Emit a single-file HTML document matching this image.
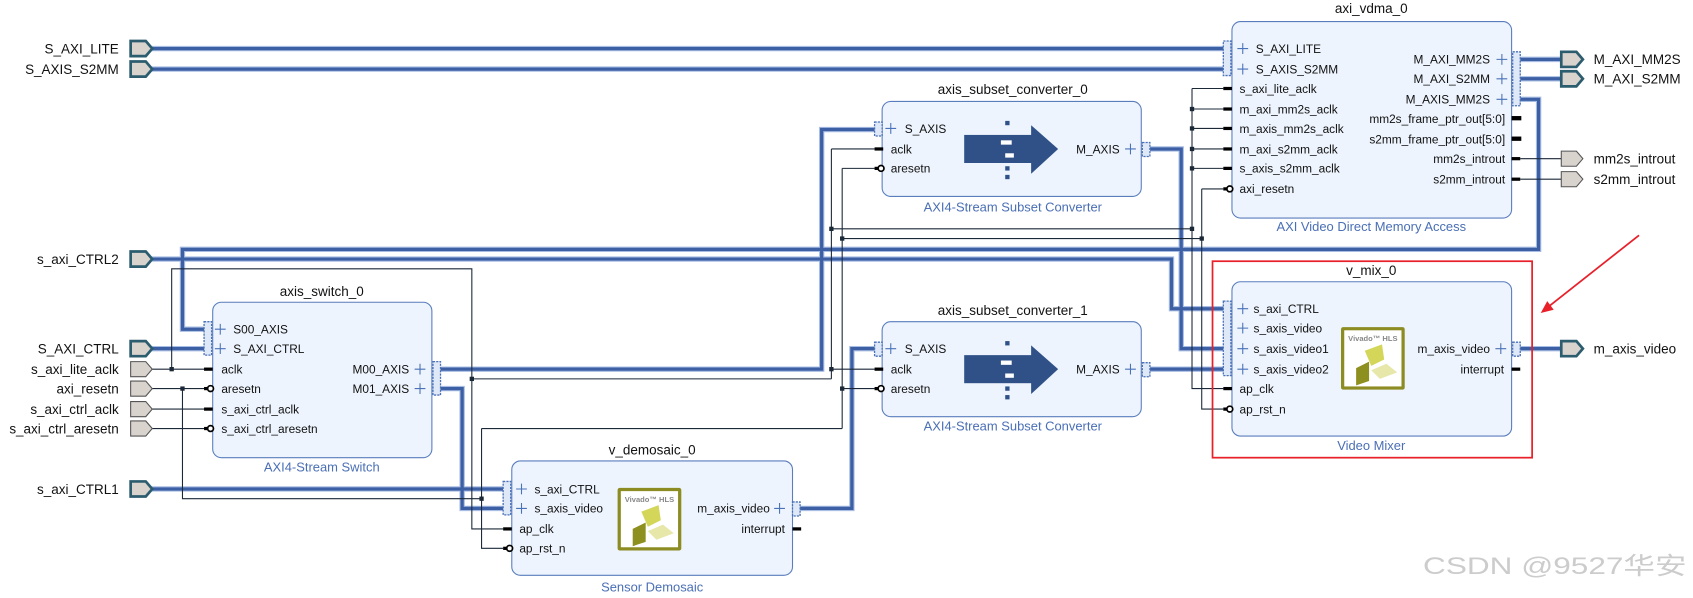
<!DOCTYPE html>
<html><head><meta charset="utf-8"><style>
html,body{margin:0;padding:0;background:#fff;}
svg{display:block;}
text{font-family:"Liberation Sans",Arial,sans-serif;}
.pl{font-size:11px;fill:#111;}
.t{font-size:12.5px;fill:#111;text-anchor:middle;}
.st{font-size:12px;fill:#4a6fb5;text-anchor:middle;}
.ep{font-size:12.5px;fill:#111;}
.box{fill:#edf4fd;stroke:#5a7dbd;stroke-width:1;}
.bo{fill:none;stroke:#a8bde3;stroke-width:5;}
.bi{fill:none;stroke:#3d60a5;stroke-width:3;}
.w{fill:none;stroke:#1b2838;stroke-width:1;}
.pb{fill:#d9d3ce;stroke:#2c5d6e;stroke-width:2.5;}
.pw{fill:#d9d3ce;stroke:#555;stroke-width:1;}
.ic{fill:#dfe8f6;stroke:#4a72b8;stroke-width:1.2;stroke-dasharray:2 1;}
.pls{stroke:#4a72b8;stroke-width:1;fill:none;}
</style></head><body>
<svg width="1693" height="598" viewBox="0 0 1568 554" preserveAspectRatio="none" xmlns="http://www.w3.org/2000/svg">
<defs>
<g id="logo">
<rect x="0" y="0" width="59" height="58" rx="2" fill="#8c8c22"/>
<rect x="3" y="3" width="53" height="52" fill="#fff"/>
<text x="29.5" y="13" font-size="7" font-weight="bold" fill="#888" text-anchor="middle">Vivado™ HLS</text>
<polygon points="22,22 38,16 40,30 28,36" fill="#d4d65a"/>
<polygon points="14,38 26,32 26,50 14,54" fill="#8d8f1e"/>
<polygon points="28,40 42,34 52,42 36,48" fill="#e6e7a8"/>
</g>
<g id="conv">
<rect x="0" y="9" width="63" height="26" fill="#2f5188"/>
<polygon points="62,0 87,22 62,45" fill="#2f5188"/>
<rect x="38" y="-4" width="4" height="4" fill="#2f5188"/>
<rect x="34" y="14" width="10" height="4" fill="#fff"/>
<rect x="38" y="26" width="8" height="4" fill="#fff"/>
<rect x="38" y="38" width="4" height="4" fill="#2f5188"/>
<rect x="38" y="46" width="4" height="4" fill="#2f5188"/>
</g>
</defs>

<g>
<path class="bo" d="M140 45H1133M140 64H1133M140 240H1085V286H1133M1408 92H1425V231H169V305H190M140 323H190M408 342H761V120H810M408 360H428V471H466M140 453H466M741 471H789V323H810M1065 138H1094V323H1133M1065 342H1133M1408 323H1446M1408 55H1446M1408 73H1446"/>
<path class="bi" d="M140 45H1133M140 64H1133M140 240H1085V286H1133M1408 92H1425V231H169V305H190M140 323H190M408 342H761V120H810M408 360H428V471H466M140 453H466M741 471H789V323H810M1065 138H1094V323H1133M1065 342H1133M1408 323H1446M1408 55H1446M1408 73H1446"/>
</g>

<path class="w" d="M140 342H190M159 342V249H437V490H466M437 351H770M770 138H810M770 138V351M770 342H810M770 212H1104M1104 82V360H1133M1104 82H1133M1104 101H1133M1104 119H1133M1104 138H1133M1104 156H1133M140 360H190M169 360V462H446M446 397V508H466M446 397H780M780 156V397M780 156H810M780 360H810M780 221H1113M1113 175V379H1133M1113 175H1133M140 379H190M140 397H190M1408 147H1446M1408 166H1446"/>
<g fill="#1b2838">
<rect x="157" y="340" width="4" height="4"/><rect x="167" y="358" width="4" height="4"/>
<rect x="435" y="349" width="4" height="4"/><rect x="444" y="460" width="4" height="4"/>
<rect x="768" y="210" width="4" height="4"/><rect x="768" y="340" width="4" height="4"/>
<rect x="778" y="219" width="4" height="4"/><rect x="778" y="358" width="4" height="4"/>
<rect x="1102" y="99" width="4" height="4"/><rect x="1102" y="117" width="4" height="4"/>
<rect x="1102" y="136" width="4" height="4"/><rect x="1102" y="154" width="4" height="4"/>
<rect x="1102" y="210" width="4" height="4"/><rect x="1111" y="219" width="4" height="4"/>
</g>

<g>
<path class="pb" d="M121 38h14l6 7l-6 7h-14z"/><text class="ep" x="110" y="49.5" text-anchor="end">S_AXI_LITE</text>
<path class="pb" d="M121 57h14l6 7l-6 7h-14z"/><text class="ep" x="110" y="68.5" text-anchor="end">S_AXIS_S2MM</text>
<path class="pb" d="M121 233h14l6 7l-6 7h-14z"/><text class="ep" x="110" y="244.5" text-anchor="end">s_axi_CTRL2</text>
<path class="pb" d="M121 316h14l6 7l-6 7h-14z"/><text class="ep" x="110" y="327.5" text-anchor="end">S_AXI_CTRL</text>
<path class="pw" d="M121 335h14l6 7l-6 7h-14z"/><text class="ep" x="110" y="346.5" text-anchor="end">s_axi_lite_aclk</text>
<path class="pw" d="M121 353h14l6 7l-6 7h-14z"/><text class="ep" x="110" y="364.5" text-anchor="end">axi_resetn</text>
<path class="pw" d="M121 372h14l6 7l-6 7h-14z"/><text class="ep" x="110" y="383.5" text-anchor="end">s_axi_ctrl_aclk</text>
<path class="pw" d="M121 390h14l6 7l-6 7h-14z"/><text class="ep" x="110" y="401.5" text-anchor="end">s_axi_ctrl_aresetn</text>
<path class="pb" d="M121 446h14l6 7l-6 7h-14z"/><text class="ep" x="110" y="457.5" text-anchor="end">s_axi_CTRL1</text>
</g>
<g>
<path class="pb" d="M1446 48h14l6 7l-6 7h-14z"/><text class="ep" x="1476" y="59.5">M_AXI_MM2S</text>
<path class="pb" d="M1446 66h14l6 7l-6 7h-14z"/><text class="ep" x="1476" y="77.5">M_AXI_S2MM</text>
<path class="pw" d="M1446 140h14l6 7l-6 7h-14z"/><text class="ep" x="1476" y="151.5">mm2s_introut</text>
<path class="pw" d="M1446 159h14l6 7l-6 7h-14z"/><text class="ep" x="1476" y="170.5">s2mm_introut</text>
<path class="pb" d="M1446 316h14l6 7l-6 7h-14z"/><text class="ep" x="1476" y="327.5">m_axis_video</text>
</g>

<text class="t" x="298" y="274">axis_switch_0</text>
<rect class="box" x="197" y="280" width="203" height="144" rx="8"/>
<text class="st" x="298" y="437">AXI4-Stream Switch</text>
<rect class="ic" x="189" y="298" width="7" height="31"/>
<path class="pls" d="M199 305h10M204 300v10M199 323h10M204 318v10"/>
<text class="pl" x="216" y="309">S00_AXIS</text><text class="pl" x="216" y="327">S_AXI_CTRL</text>
<rect x="189" y="340.5" width="8" height="3" fill="#000"/><text class="pl" x="205" y="346">aclk</text>
<rect x="189" y="358.5" width="5" height="3" fill="#000"/><circle cx="195" cy="360" r="2.7" fill="#fff" stroke="#000" stroke-width="1.6"/><text class="pl" x="205" y="364">aresetn</text>
<rect x="189" y="377.5" width="8" height="3" fill="#000"/><text class="pl" x="205" y="383">s_axi_ctrl_aclk</text>
<rect x="189" y="395.5" width="5" height="3" fill="#000"/><circle cx="195" cy="397" r="2.7" fill="#fff" stroke="#000" stroke-width="1.6"/><text class="pl" x="205" y="401">s_axi_ctrl_aresetn</text>
<rect class="ic" x="401" y="335" width="7" height="31"/>
<path class="pls" d="M384 342h10M389 337v10M384 360h10M389 355v10"/>
<text class="pl" x="379" y="346" text-anchor="end">M00_AXIS</text><text class="pl" x="379" y="364" text-anchor="end">M01_AXIS</text>

<text class="t" x="604" y="421">v_demosaic_0</text>
<rect class="box" x="474" y="427" width="260" height="106" rx="8"/>
<text class="st" x="604" y="548">Sensor Demosaic</text>
<rect class="ic" x="466" y="446" width="7" height="31"/>
<path class="pls" d="M478 453h10M483 448v10M478 471h10M483 466v10"/>
<text class="pl" x="495" y="457">s_axi_CTRL</text><text class="pl" x="495" y="475">s_axis_video</text>
<rect x="466" y="488.5" width="8" height="3" fill="#000"/><text class="pl" x="481" y="494">ap_clk</text>
<rect x="466" y="506.5" width="5" height="3" fill="#000"/><circle cx="472" cy="508" r="2.7" fill="#fff" stroke="#000" stroke-width="1.6"/><text class="pl" x="481" y="512">ap_rst_n</text>
<use href="#logo" x="572" y="452"/>
<rect class="ic" x="734" y="465" width="7" height="13"/>
<path class="pls" d="M717 471h10M722 466v10"/>
<text class="pl" x="713" y="475" text-anchor="end">m_axis_video</text>
<text class="pl" x="727" y="494" text-anchor="end">interrupt</text>
<rect x="734" y="488.5" width="8" height="3" fill="#000"/>

<text class="t" x="938" y="87">axis_subset_converter_0</text>
<rect class="box" x="817" y="94" width="240" height="88" rx="8"/>
<text class="st" x="938" y="196">AXI4-Stream Subset Converter</text>
<rect class="ic" x="810" y="113" width="7" height="13"/>
<path class="pls" d="M820 119h10M825 114v10"/><text class="pl" x="838" y="123">S_AXIS</text>
<rect x="810" y="136.5" width="8" height="3" fill="#000"/><text class="pl" x="825" y="142">aclk</text>
<rect x="810" y="154.5" width="5" height="3" fill="#000"/><circle cx="816" cy="156" r="2.7" fill="#fff" stroke="#000" stroke-width="1.6"/><text class="pl" x="825" y="160">aresetn</text>
<use href="#conv" x="893" y="116"/>
<rect class="ic" x="1058" y="132" width="7" height="13"/>
<path class="pls" d="M1042 138h10M1047 133v10"/><text class="pl" x="1037" y="142" text-anchor="end">M_AXIS</text>

<text class="t" x="938" y="292">axis_subset_converter_1</text>
<rect class="box" x="817" y="298" width="240" height="88" rx="8"/>
<text class="st" x="938" y="399">AXI4-Stream Subset Converter</text>
<rect class="ic" x="810" y="317" width="7" height="13"/>
<path class="pls" d="M820 323h10M825 318v10"/><text class="pl" x="838" y="327">S_AXIS</text>
<rect x="810" y="340.5" width="8" height="3" fill="#000"/><text class="pl" x="825" y="346">aclk</text>
<rect x="810" y="358.5" width="5" height="3" fill="#000"/><circle cx="816" cy="360" r="2.7" fill="#fff" stroke="#000" stroke-width="1.6"/><text class="pl" x="825" y="364">aresetn</text>
<use href="#conv" x="893" y="320"/>
<rect class="ic" x="1058" y="336" width="7" height="13"/>
<path class="pls" d="M1042 342h10M1047 337v10"/><text class="pl" x="1037" y="346" text-anchor="end">M_AXIS</text>

<text class="t" x="1270" y="12">axi_vdma_0</text>
<rect class="box" x="1141" y="20" width="259" height="182" rx="8"/>
<text class="st" x="1270" y="214">AXI Video Direct Memory Access</text>
<rect class="ic" x="1133" y="38" width="7" height="32"/>
<path class="pls" d="M1146 45h10M1151 40v10M1146 64h10M1151 59v10"/>
<text class="pl" x="1163" y="49">S_AXI_LITE</text><text class="pl" x="1163" y="68">S_AXIS_S2MM</text>
<g>
<rect x="1133" y="80.5" width="8" height="3" fill="#000"/><text class="pl" x="1148" y="86">s_axi_lite_aclk</text>
<rect x="1133" y="99.5" width="8" height="3" fill="#000"/><text class="pl" x="1148" y="105">m_axi_mm2s_aclk</text>
<rect x="1133" y="117.5" width="8" height="3" fill="#000"/><text class="pl" x="1148" y="123">m_axis_mm2s_aclk</text>
<rect x="1133" y="136.5" width="8" height="3" fill="#000"/><text class="pl" x="1148" y="142">m_axi_s2mm_aclk</text>
<rect x="1133" y="154.5" width="8" height="3" fill="#000"/><text class="pl" x="1148" y="160">s_axis_s2mm_aclk</text>
<rect x="1133" y="173.5" width="5" height="3" fill="#000"/><circle cx="1139" cy="175" r="2.7" fill="#fff" stroke="#000" stroke-width="1.6"/><text class="pl" x="1148" y="179">axi_resetn</text>
</g>
<rect class="ic" x="1401" y="48" width="7" height="50"/>
<path class="pls" d="M1386 55h10M1391 50v10M1386 73h10M1391 68v10M1386 92h10M1391 87v10"/>
<text class="pl" x="1380" y="59" text-anchor="end">M_AXI_MM2S</text>
<text class="pl" x="1380" y="77" text-anchor="end">M_AXI_S2MM</text>
<text class="pl" x="1380" y="96" text-anchor="end">M_AXIS_MM2S</text>
<text class="pl" x="1394" y="114" text-anchor="end">mm2s_frame_ptr_out[5:0]</text>
<text class="pl" x="1394" y="133" text-anchor="end">s2mm_frame_ptr_out[5:0]</text>
<text class="pl" x="1394" y="151" text-anchor="end">mm2s_introut</text>
<text class="pl" x="1394" y="170" text-anchor="end">s2mm_introut</text>
<rect x="1400" y="107.5" width="9" height="4" fill="#000"/>
<rect x="1400" y="126.5" width="9" height="4" fill="#000"/>
<rect x="1400" y="145.5" width="8" height="3" fill="#000"/>
<rect x="1400" y="164.5" width="8" height="3" fill="#000"/>

<rect x="1123" y="242" width="296" height="182" fill="none" stroke="#e8202a" stroke-width="1.6"/>
<text class="t" x="1270" y="255">v_mix_0</text>
<rect class="box" x="1141" y="261" width="259" height="143" rx="8"/>
<text class="st" x="1270" y="417">Video Mixer</text>
<rect class="ic" x="1133" y="279" width="7" height="69"/>
<path class="pls" d="M1146 286h10M1151 281v10M1146 304h10M1151 299v10M1146 323h10M1151 318v10M1146 342h10M1151 337v10"/>
<text class="pl" x="1161" y="290">s_axi_CTRL</text>
<text class="pl" x="1161" y="308">s_axis_video</text>
<text class="pl" x="1161" y="327">s_axis_video1</text>
<text class="pl" x="1161" y="346">s_axis_video2</text>
<rect x="1133" y="358.5" width="8" height="3" fill="#000"/><text class="pl" x="1148" y="364">ap_clk</text>
<rect x="1133" y="377.5" width="5" height="3" fill="#000"/><circle cx="1139" cy="379" r="2.7" fill="#fff" stroke="#000" stroke-width="1.6"/><text class="pl" x="1148" y="383">ap_rst_n</text>
<use href="#logo" x="1242" y="303"/>
<rect class="ic" x="1401" y="317" width="7" height="13"/>
<path class="pls" d="M1385 323h10M1390 318v10"/>
<text class="pl" x="1380" y="327" text-anchor="end">m_axis_video</text>
<text class="pl" x="1393" y="346" text-anchor="end">interrupt</text>
<rect x="1400" y="340.5" width="8" height="3" fill="#000"/>

<line x1="1518" y1="218" x2="1433" y2="285" stroke="#e8202a" stroke-width="1.6"/>
<polygon points="1427,290 1433,279 1439,287" fill="#e8202a"/>

<text x="1318" y="532" font-size="22" textLength="244" lengthAdjust="spacingAndGlyphs" fill="#cccccc" font-family="'Liberation Sans','Noto Sans CJK SC',sans-serif">CSDN @9527华安</text>
</svg>
</body></html>
